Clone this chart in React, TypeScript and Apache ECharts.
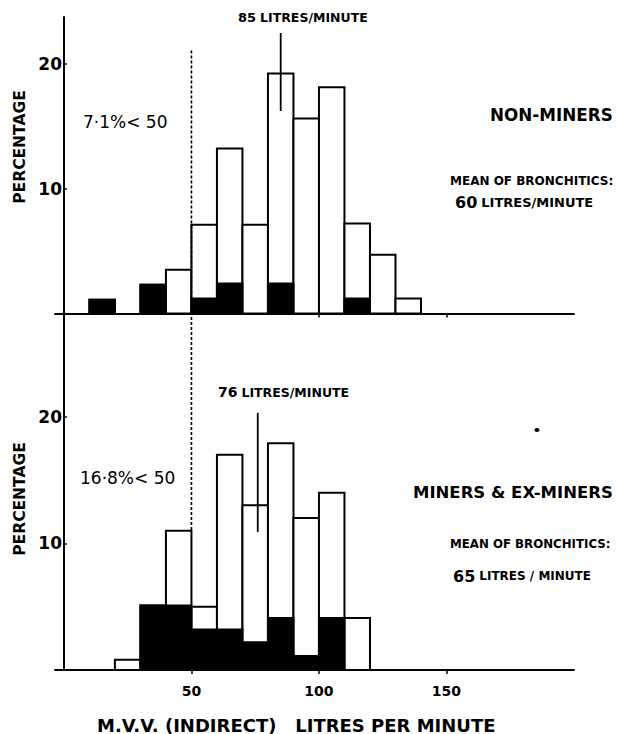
import React, { useEffect, useRef } from "react";
import * as echarts from "echarts";

// Bin edges (litres per minute)
const topBinStarts = [10, 20, 30, 40, 50, 60, 70, 80, 90, 100, 110, 120, 130];
const topTotal = [1.1, 0, 2.3, 3.5, 7.1, 13.2, 7.1, 19.2, 15.6, 18.1, 7.2, 4.7, 1.2];
const topBronchitic = [1.1, 0, 2.3, 0, 1.2, 2.4, 0, 2.4, 0, 0, 1.2, 0, 0];

const botBinStarts = [20, 30, 40, 50, 60, 70, 80, 90, 100, 110];
const botTotal = [0.8, 5.1, 11.0, 5.0, 17.0, 13.0, 17.9, 12.0, 14.0, 4.1];
const botBronchitic = [0, 5.1, 5.1, 3.2, 3.2, 2.2, 4.1, 1.1, 4.1, 0];

const binWidth = 10;
const xTickValues = [50, 100, 150];
const yTickValues = [10, 20];

const topMean = 85;
const topMeanSpan = [16.2, 22.45];
const botMean = 76;
const botMeanSpan = [10.9, 20.3];

const cutoff = 50;
const topCutoffSpan = [0, 21.05];
const botCutoffSpan = [11.05, 28.1];

const FONT = "DejaVu Sans";

function binData(starts: number[], vals: number[]) {
  return starts
    .map((s, i) => [s, s + binWidth, vals[i]])
    .filter((d) => d[2] > 0);
}

function rectSeries(
  name: string,
  idx: number,
  data: number[][],
  fill: string,
  z: number
) {
  return {
    name,
    type: "custom",
    xAxisIndex: idx,
    yAxisIndex: idx,
    z,
    data,
    renderItem: (params: any, api: any) => {
      const x0 = api.value(0);
      const x1 = api.value(1);
      const v = api.value(2);
      const p0 = api.coord([x0, v]);
      const p1 = api.coord([x1, 0]);
      return {
        type: "rect",
        shape: { x: p0[0], y: p0[1], width: p1[0] - p0[0], height: p1[1] - p0[1] },
        style: { fill, stroke: "#000", lineWidth: 2 },
      };
    },
  };
}

function vLine(idx: number, x: number, span: number[], dashed: boolean) {
  return {
    type: "line",
    xAxisIndex: idx,
    yAxisIndex: idx,
    data: [
      [x, span[0]],
      [x, span[1]],
    ],
    symbol: "none",
    z: 5,
    lineStyle: { color: "#000", width: dashed ? 1.6 : 1.8, type: dashed ? [3, 2] : "solid" },
    silent: true,
  };
}

export default function App() {
  const ref = useRef<HTMLDivElement>(null);
  useEffect(() => {
    if (!ref.current) return;
    const chart = echarts.init(ref.current, undefined, { renderer: "svg" });
    const xAxisBase = (idx: number, showLabels: boolean) => ({
      type: "value",
      gridIndex: idx,
      min: -3.5,
      max: 200,
      splitLine: { show: false },
      axisLine: { show: true, lineStyle: { color: "#000", width: 2 } },
      axisTick: {
        show: true,
        customValues: showLabels ? xTickValues : [100, 150],
        length: 4,
        lineStyle: { color: "#000", width: 1.5 },
      },
      axisLabel: {
        show: showLabels,
        customValues: xTickValues,
        margin: 14,
        color: "#000",
        fontFamily: FONT,
        fontWeight: "bold",
        fontSize: 14,
      },
    });
    const yAxisBase = (idx: number, max: number) => ({
      type: "value",
      gridIndex: idx,
      min: 0,
      max,
      splitLine: { show: false },
      axisLine: { show: true, onZero: true, lineStyle: { color: "#000", width: 2 } },
      axisTick: {
        show: true,
        inside: true,
        customValues: yTickValues,
        length: 3,
        lineStyle: { color: "#000", width: 1.5 },
      },
      axisLabel: {
        customValues: yTickValues,
        margin: -7,
        color: "#000",
        fontFamily: FONT,
        fontWeight: "bold",
        fontSize: 17,
      },
    });

    const txt = (text: string, x: number, y: number, size: number, extra: any = {}, weight = "bold") => ({
      type: "text",
      x,
      y,
      style: {
        text,
        fill: "#000",
        font: `${weight} ${size}px "${FONT}"`,
        verticalAlign: "middle",
        align: "left",
        ...extra,
      },
    });

    const richLabel = (big: string, small: string, x: number, y: number, bigSize: number, smallSize: number) => ({
      type: "text",
      x,
      y,
      style: {
        text: `{a|${big}}{b|${small}}`,
        verticalAlign: "middle",
        align: "left",
        rich: {
          a: { fontFamily: FONT, fontWeight: "bold", fontSize: bigSize, fill: "#000", padding: [0, 4, 0, 0] },
          b: { fontFamily: FONT, fontWeight: "bold", fontSize: smallSize, fill: "#000" },
        },
      },
    });

    chart.setOption({
      animation: false,
      backgroundColor: "#fff",
      grid: [
        { left: 55, width: 519, top: 17, height: 296.5 },
        { left: 55, width: 519, top: 314, height: 356 },
      ],
      xAxis: [xAxisBase(0, false), xAxisBase(1, true)],
      yAxis: [yAxisBase(0, 23.72), yAxisBase(1, 28.1)],
      series: [
        rectSeries("Non-miners", 0, binData(topBinStarts, topTotal), "#fff", 2),
        rectSeries("Non-miners bronchitics", 0, binData(topBinStarts, topBronchitic), "#000", 3),
        rectSeries("Miners & ex-miners", 1, binData(botBinStarts, botTotal), "#fff", 2),
        rectSeries("Miners bronchitics", 1, binData(botBinStarts, botBronchitic), "#000", 3),
        vLine(0, topMean, topMeanSpan, false),
        vLine(1, botMean, botMeanSpan, false),
        vLine(0, cutoff, topCutoffSpan, true),
        vLine(1, cutoff, botCutoffSpan, true),
      ],
      graphic: [
        { ...txt("PERCENTAGE", 0, 0, 15.5, { align: "center" }), x: 20, y: 147, rotation: Math.PI / 2 },
        { ...txt("PERCENTAGE", 0, 0, 15.5, { align: "center" }), x: 20, y: 499, rotation: Math.PI / 2 },
        richLabel("85", "LITRES/MINUTE", 238, 17, 13, 12.5),
        richLabel("76", "LITRES/MINUTE", 218, 392, 14, 12.5),
        txt("7·1%< 50", 83, 122, 17, {}, "normal"),
        txt("16·8%< 50", 80, 478, 17, {}, "normal"),
        txt("NON-MINERS", 490, 115, 16.8),
        txt("MEAN OF BRONCHITICS:", 450, 181, 12),
        richLabel("60", "LITRES/MINUTE", 455, 202, 16, 13),
        txt("MINERS & EX-MINERS", 413, 492, 16.5),
        txt("MEAN OF BRONCHITICS:", 450, 544, 11.8),
        richLabel("65", "LITRES / MINUTE", 453, 576, 16, 12),
        txt("M.V.V. (INDIRECT)   LITRES PER MINUTE", 97, 725, 18),
        { type: "ellipse", shape: { cx: 537, cy: 430, rx: 2.5, ry: 2 }, style: { fill: "#000" } },
      ],
    });
    return () => chart.dispose();
  }, []);
  return (
    <div
      ref={ref}
      style={{ position: "fixed", left: 0, top: 0, width: 619, height: 734 }}
    />
  );
}
